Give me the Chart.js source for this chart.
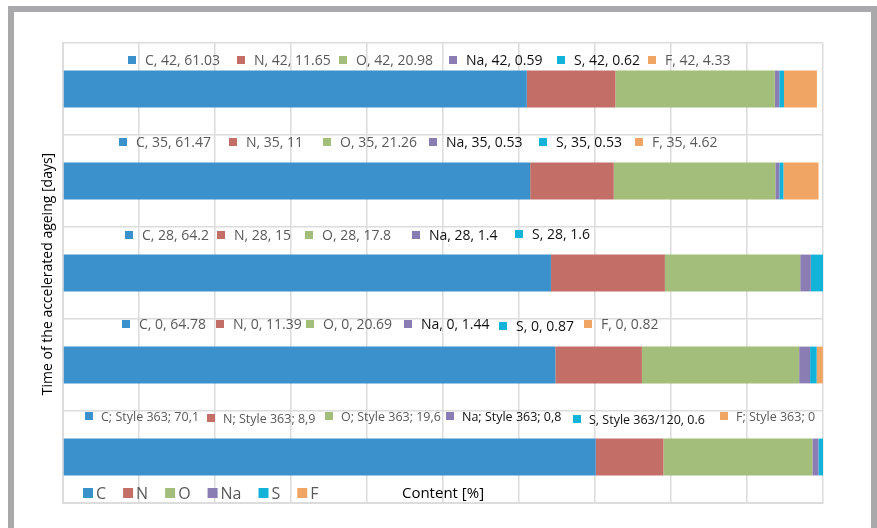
<!DOCTYPE html>
<html>
<head>
<meta charset="utf-8">
<script src="https://cdn.jsdelivr.net/npm/chart.js@4.4.1/dist/chart.umd.min.js"></script>
<style>
  html, body { margin: 0; padding: 0; background: #fff; }
  #wrap { position: relative; width: 877px; height: 528px; overflow: hidden; }
  #frame { position: absolute; left: 8px; top: 6px; width: 869px; height: 700px;
           border: 6px solid #a9a9ab; box-sizing: border-box; }
  #chart { position: absolute; left: 0; top: 0; }
</style>
</head>
<body>
<div id="wrap">
  <div id="frame"></div>
  <canvas id="chart" width="877" height="528"></canvas>
</div>
<script>
// categories, top to bottom
const categories = ['42', '35', '28', '0', 'Style 363'];
const elements = ['C', 'N', 'O', 'Na', 'S', 'F'];

// content [%] per element
const cValues  = [61.03, 61.47, 64.2, 64.78, 70.1];
const nValues  = [11.65, 11, 15, 11.39, 8.9];
const oValues  = [20.98, 21.26, 17.8, 20.69, 19.6];
const naValues = [0.59, 0.53, 1.4, 1.44, 0.8];
const sValues  = [0.62, 0.53, 1.6, 0.87, 0.6];
const fValues  = [4.33, 4.62, 0, 0.82, 0];

// label texts shown above each bar
const barLabels = [
  ['C, 42, 61.03', 'N, 42, 11.65', 'O, 42, 20.98', 'Na, 42, 0.59', 'S, 42, 0.62', 'F, 42, 4.33'],
  ['C, 35, 61.47', 'N, 35, 11', 'O, 35, 21.26', 'Na, 35, 0.53', 'S, 35, 0.53', 'F, 35, 4.62'],
  ['C, 28, 64.2', 'N, 28, 15', 'O, 28, 17.8', 'Na, 28, 1.4', 'S, 28, 1.6'],
  ['C, 0, 64.78', 'N, 0, 11.39', 'O, 0, 20.69', 'Na, 0, 1.44', 'S, 0, 0.87', 'F, 0, 0.82'],
  ['C; Style 363; 70,1', 'N; Style 363; 8,9', 'O; Style 363; 19,6', 'Na; Style 363; 0,8', 'S, Style 363/120, 0.6', 'F; Style 363; 0']
];

const colors = ['#3a91cb', '#c36f68', '#a3be7b', '#8a7db3', '#13b2d9', '#f1a564'];
const seriesValues = [cValues, nValues, oValues, naValues, sValues, fValues];

// where the labels were placed (x of the key square, px) and their vertical offset
const labelLeft = [
  [128, 237, 339, 449, 557, 648],
  [119, 229, 323, 429, 539, 635],
  [125, 217, 305, 412, 515],
  [122, 216, 306, 404, 499, 584],
  [85, 207, 325, 446, 573, 720]
];
const labelTopOffset = [22, 12, 13, 10, 10];
const labelDy = [
  [0, 0, 0, 0, 0, 0],
  [0, 0, 0, 0, 0, 0],
  [0, 0, 0, 0, -1],
  [0, 0, 0, 0, 2, 0],
  [0, 2, 0, 0, 3, 0]
];

const FONT = '"Open Sans", sans-serif';

const textPlugin = {
  id: 'textPlugin',
  afterDatasetsDraw(chart) {
    const ctx = chart.ctx;
    const area = chart.chartArea;
    const y = chart.scales.y;
    const catH = (area.bottom - area.top) / categories.length;
    ctx.save();
    ctx.textBaseline = 'alphabetic';
    ctx.textAlign = 'left';

    // labels above the bars
    barLabels.forEach((row, i) => {
      const top = y.getPixelForValue(i) - catH / 2;
      const base = top + labelTopOffset[i];
      const small = i === 4;
      ctx.font = (small ? '12.5px ' : '14px ') + FONT;
      row.forEach((txt, j) => {
        const bx = labelLeft[i][j];
        const by = base + labelDy[i][j];
        ctx.fillStyle = colors[j];
        ctx.fillRect(bx, by - 9, 8, 8);
        ctx.fillStyle = (j === 3 || j === 4) ? '#111' : '#595959';
        ctx.fillText(txt, bx + (small ? 16 : 17), by);
      });
    });

    // legend inside the plot bottom
    ctx.font = '16px ' + FONT;
    let lx = 83;
    const ly = 499;
    elements.forEach((el, j) => {
      ctx.fillStyle = colors[j];
      ctx.fillRect(lx, ly - 11, 10, 10);
      ctx.fillStyle = '#595959';
      ctx.fillText(el, lx + 13, ly);
      lx += 13 + ctx.measureText(el).width + 17;
    });

    // axis titles
    ctx.fillStyle = '#000';
    ctx.font = '15px ' + FONT;
    ctx.textAlign = 'center';
    ctx.fillText('Content [%]', 443, 498);

    ctx.font = '14px ' + FONT;
    ctx.translate(52, 274);
    ctx.rotate(-Math.PI / 2);
    ctx.fillText('Time of the accelerated ageing [days]', 0, 0);
    ctx.restore();
  }
};

new Chart(document.getElementById('chart'), {
  type: 'bar',
  data: {
    labels: categories,
    datasets: elements.map((el, j) => ({
      label: el,
      data: seriesValues[j],
      backgroundColor: colors[j],
      borderWidth: 0,
      barPercentage: 0.4,
      categoryPercentage: 1
    }))
  },
  options: {
    indexAxis: 'y',
    responsive: false,
    animation: false,
    devicePixelRatio: 1,
    layout: { padding: { left: 63, right: 54, top: 43, bottom: 25 } },
    scales: {
      x: {
        stacked: true, min: 0, max: 100,
        ticks: { display: false, stepSize: 10 },
        grid: { color: '#dcdcdc', lineWidth: 1.5, drawTicks: false },
        border: { color: '#dcdcdc', width: 2 }
      },
      y: {
        stacked: true,
        ticks: { display: false },
        grid: { color: '#dcdcdc', lineWidth: 1.5, drawTicks: false },
        border: { color: '#dcdcdc', width: 2 }
      }
    },
    plugins: { legend: { display: false }, tooltip: { enabled: false } }
  },
  plugins: [textPlugin]
});
</script>
</body>
</html>
